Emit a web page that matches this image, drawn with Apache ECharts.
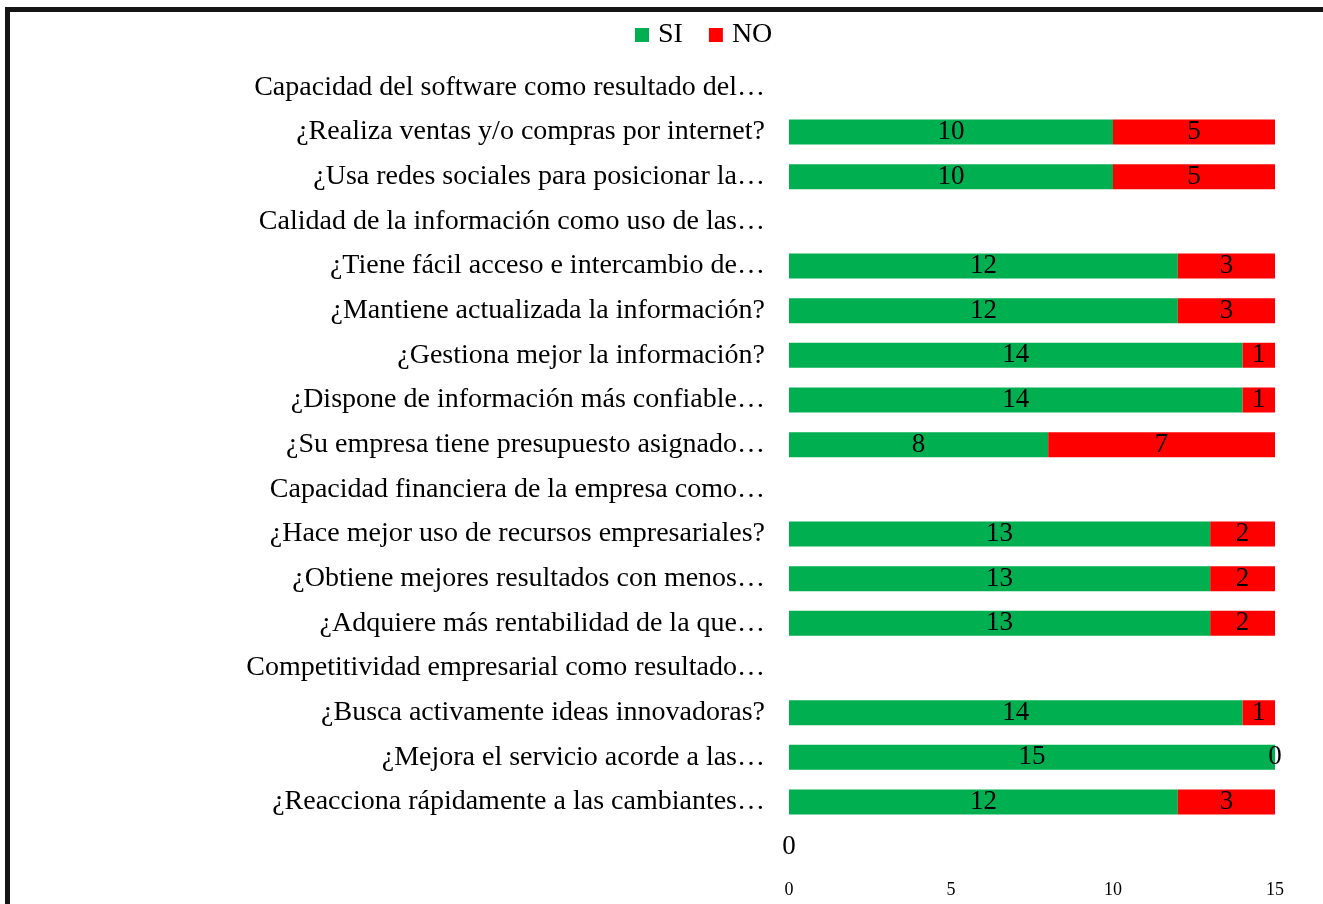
<!DOCTYPE html>
<html>
<head>
<meta charset="utf-8">
<script src="https://cdn.jsdelivr.net/npm/echarts@6/dist/echarts.min.js"></script>
<style>
  html, body { margin: 0; padding: 0; background: #fff; overflow: hidden; }
  #frame { position: absolute; left: 5px; top: 7px; width: 2000px; height: 2000px;
           border-left: 5px solid #151515; border-top: 5px solid #151515; }
  #chart { position: absolute; left: 0; top: 0; width: 1323px; height: 904px; }
</style>
</head>
<body>
<div id="frame"></div>
<div id="chart"></div>
<script>
// categories top to bottom, as in the picture
const categories = [
  'Capacidad del software como resultado del…',
  '¿Realiza ventas y/o compras por internet?',
  '¿Usa redes sociales para posicionar la…',
  'Calidad de la información como uso de las…',
  '¿Tiene fácil acceso e intercambio de…',
  '¿Mantiene actualizada la información?',
  '¿Gestiona mejor la información?',
  '¿Dispone de información más confiable…',
  '¿Su empresa tiene presupuesto asignado…',
  'Capacidad financiera de la empresa como…',
  '¿Hace mejor uso de recursos empresariales?',
  '¿Obtiene mejores resultados con menos…',
  '¿Adquiere más rentabilidad de la que…',
  'Competitividad empresarial como resultado…',
  '¿Busca activamente ideas innovadoras?',
  '¿Mejora el servicio acorde a las…',
  '¿Reacciona rápidamente a las cambiantes…',
  ''
];
const siValues = [null, 10, 10, null, 12, 12, 14, 14, 8, null, 13, 13, 13, null, 14, 15, 12, 0];
const noValues = [null, 5, 5, null, 3, 3, 1, 1, 7, null, 2, 2, 2, null, 1, 0, 3, null];
const xTicks = { min: 0, max: 15, interval: 5 };

const serif = '"Liberation Serif", "Times New Roman", serif';
const chart = echarts.init(document.getElementById('chart'));

const labelStyle = {
  show: true,
  position: 'inside',
  color: '#000',
  fontFamily: serif,
  fontSize: 27
};

const option = {
  animation: false,
  legend: {
    top: 16,
    left: 630,
    itemWidth: 14,
    itemHeight: 14,
    itemGap: 26,
    icon: 'rect',
    textStyle: { fontFamily: serif, fontSize: 28, color: '#000', padding: [0, 0, 0, 4] },
    data: ['SI', 'NO']
  },
  grid: { left: 789, right: 48, top: 65, bottom: 35, containLabel: false },
  xAxis: {
    type: 'value',
    min: xTicks.min,
    max: xTicks.max,
    interval: xTicks.interval,
    axisLine: { show: false },
    axisTick: { show: false },
    splitLine: { show: false },
    axisLabel: { color: '#000', fontFamily: serif, fontSize: 18, margin: 12 }
  },
  yAxis: {
    type: 'category',
    inverse: true,
    data: categories,
    axisLine: { show: false },
    axisTick: { show: false },
    axisLabel: { color: '#000', fontFamily: serif, fontSize: 28, margin: 24, interval: 0 }
  },
  series: [
    {
      name: 'SI',
      type: 'bar',
      stack: 'total',
      barWidth: 25,
      itemStyle: { color: '#00B050' },
      label: labelStyle,
      data: siValues
    },
    {
      name: 'NO',
      type: 'bar',
      stack: 'total',
      barWidth: 25,
      itemStyle: { color: '#FF0000' },
      label: labelStyle,
      data: noValues
    }
  ]
};

chart.setOption(option);
</script>
</body>
</html>
